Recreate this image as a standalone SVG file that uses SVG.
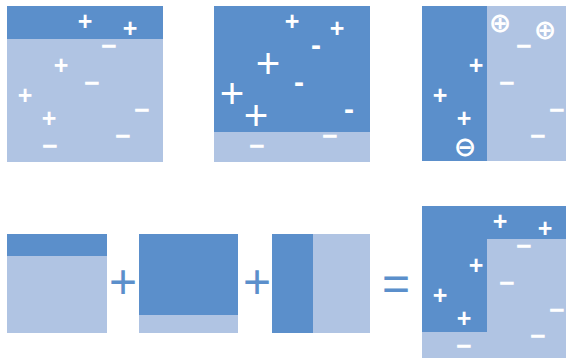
<svg xmlns="http://www.w3.org/2000/svg" width="570" height="358" viewBox="0 0 570 358">
<style>
.d{fill:#5B8FCB}
.l{fill:#B0C4E3}
.s{fill:#FFFFFF;font-family:"Liberation Sans",Arial,sans-serif;font-weight:bold;font-size:25px;text-anchor:middle}
.m{fill:#FFFFFF;font-family:"Liberation Sans",Arial,sans-serif;font-weight:bold;font-size:27px;text-anchor:middle}
.h{fill:#FFFFFF;font-family:"Liberation Sans",Arial,sans-serif;font-weight:bold;font-size:30px;text-anchor:middle}
.b{fill:#FFFFFF;font-family:"Liberation Sans",Arial,sans-serif;font-size:42px;text-anchor:middle}
.c{fill:#FFFFFF;font-family:"DejaVu Sans",sans-serif;font-weight:bold;font-size:27px;text-anchor:middle}
.op{fill:#5B8FCB;font-family:"Liberation Sans",Arial,sans-serif;font-size:48px;text-anchor:middle}
</style>
<g id="panel1">
<rect class="l" x="7" y="6" width="156" height="156"/>
<rect class="d" x="7" y="6" width="156" height="33"/>
<text class="s" x="85" y="30">+</text>
<text class="s" x="130" y="37">+</text>
<text class="m" x="109" y="55">−</text>
<text class="s" x="61" y="74">+</text>
<text class="m" x="92" y="92">−</text>
<text class="s" x="25" y="104">+</text>
<text class="m" x="142" y="119">−</text>
<text class="s" x="49" y="127">+</text>
<text class="m" x="123" y="145">−</text>
<text class="m" x="50" y="155">−</text>
</g>
<g id="panel2">
<rect class="l" x="214" y="6" width="156" height="156"/>
<rect class="d" x="214" y="6" width="156" height="126"/>
<text class="s" x="292" y="30">+</text>
<text class="s" x="337" y="37">+</text>
<text class="h" x="316" y="55">-</text>
<text class="b" x="268" y="78">+</text>
<text class="h" x="299" y="92">-</text>
<text class="b" x="232" y="108">+</text>
<text class="h" x="349" y="119">-</text>
<text class="b" x="256" y="130">+</text>
<text class="m" x="330" y="145">−</text>
<text class="m" x="257" y="155">−</text>
</g>
<g id="panel3">
<rect class="l" x="422" y="6" width="144" height="155"/>
<rect class="d" x="422" y="6" width="65" height="155"/>
<text class="c" x="500" y="32">⊕</text>
<text class="c" x="545" y="39">⊕</text>
<text class="m" x="524" y="55">−</text>
<text class="s" x="476" y="74">+</text>
<text class="m" x="507" y="92">−</text>
<text class="s" x="440" y="104">+</text>
<text class="m" x="557" y="119">−</text>
<text class="s" x="464" y="127">+</text>
<text class="m" x="538" y="145">−</text>
<text class="c" x="465" y="156">⊖</text>
</g>
<g id="sum1">
<rect class="l" x="7" y="234" width="100" height="99"/>
<rect class="d" x="7" y="234" width="100" height="22"/>
</g>
<g id="sum2">
<rect class="l" x="139" y="234" width="99" height="99"/>
<rect class="d" x="139" y="234" width="99" height="81"/>
</g>
<g id="sum3">
<rect class="l" x="272" y="234" width="98" height="99"/>
<rect class="d" x="272" y="234" width="41" height="99"/>
</g>
<g id="operators">
<text class="op" x="123" y="298">+</text>
<text class="op" x="257" y="298">+</text>
<text class="op" x="396" y="300">=</text>
</g>
<g id="result">
<rect class="l" x="422" y="206" width="144" height="152"/>
<rect class="d" x="422" y="206" width="144" height="33"/>
<rect class="d" x="422" y="206" width="65" height="126"/>
<text class="s" x="500" y="230">+</text>
<text class="s" x="545" y="237">+</text>
<text class="m" x="524" y="255">−</text>
<text class="s" x="476" y="274">+</text>
<text class="m" x="507" y="292">−</text>
<text class="s" x="440" y="304">+</text>
<text class="m" x="557" y="319">−</text>
<text class="s" x="464" y="327">+</text>
<text class="m" x="538" y="345">−</text>
<text class="m" x="464" y="355">−</text>
</g>
</svg>
